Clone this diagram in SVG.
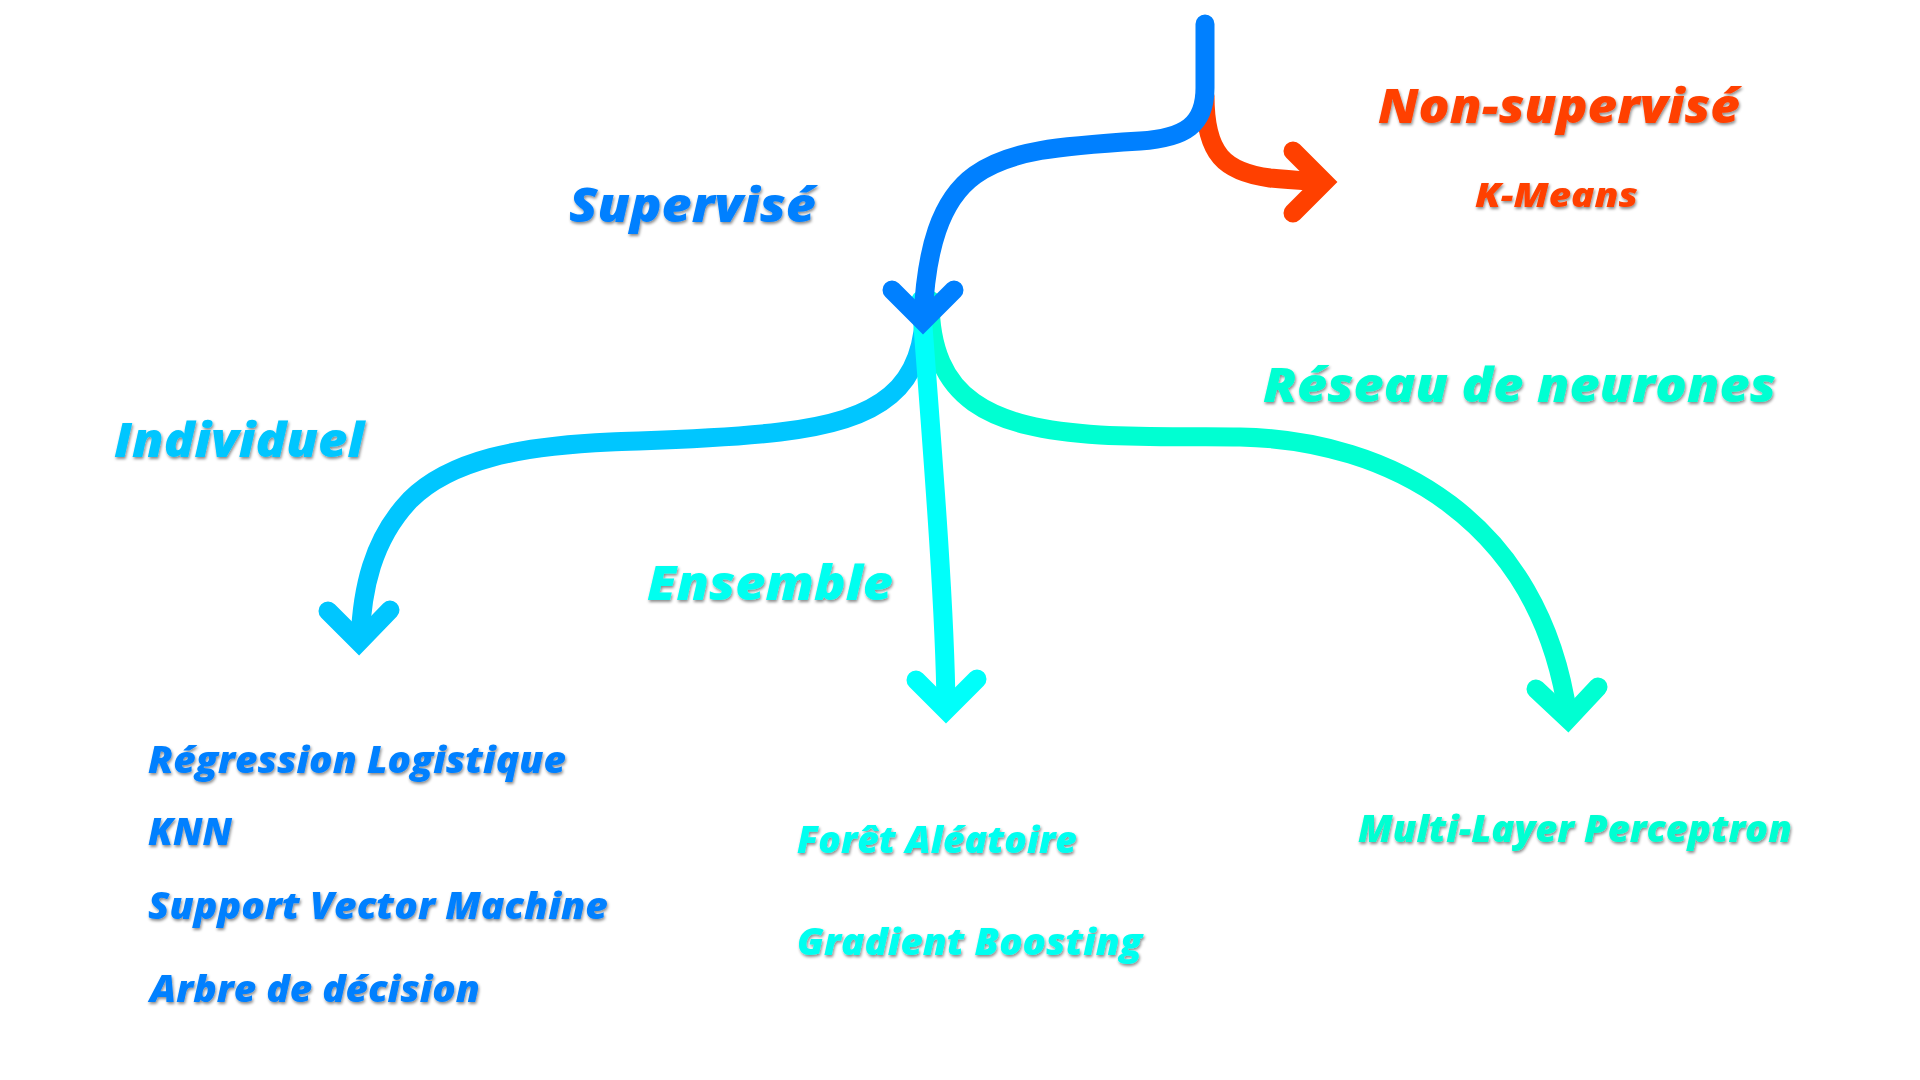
<svg xmlns="http://www.w3.org/2000/svg" width="1920" height="1080" viewBox="0 0 1920 1080">
  <defs>
    <filter id="sh" x="-10%" y="-30%" width="120%" height="160%">
      <feDropShadow dx="1" dy="2" stdDeviation="1.6" flood-color="#000" flood-opacity="0.45"/>
    </filter>
  </defs>
  <style>
    text { font-family: "Open Sans", "Noto Sans", "DejaVu Sans", sans-serif; font-weight: 800; font-style: italic; filter: url(#sh); }
    .h { font-size: 48px; }
    .s { font-size: 37px; }
    .line { fill: none; stroke-width: 19; stroke-linecap: round; stroke-linejoin: round; }
    .head { fill: none; stroke-width: 19; stroke-linecap: round; stroke-linejoin: miter; stroke-miterlimit: 10; }
    .blue { fill: #0080FF; }
    .red { fill: #FF4000; }
    .ind { fill: #00C6FF; }
    .ens { fill: #00FFF0; }
    .res { fill: #00FFD2; }
  </style>
  <rect width="1920" height="1080" fill="#FFFFFF"/>

  <g id="connectors">
    <!-- Non-supervisé branch -->
    <path class="line" stroke="#FF4000" d="M1205,96 C1205,155 1225,172 1270,178 C1290,180 1308,181 1322,182"/>
    <path class="head" stroke="#FF4000" d="M1293,151 L1324,182 L1293,213"/>
    <!-- Individuel branch -->
    <path class="line" stroke="#00C6FF" d="M925,300 C926,390 880,420 780,432 C720,439 660,440 610,442 C520,446 450,460 410,500 C372,540 362,590 360,640"/>
    <path class="head" stroke="#00C6FF" d="M328,611 L359,642 L390,610"/>
    <!-- Réseau de neurones branch -->
    <path class="line" stroke="#00FFD2" d="M930,300 C930,400 990,428 1100,435 C1160,438 1200,436 1240,437 C1390,440 1540,520 1568,716"/>
    <path class="head" stroke="#00FFD2" d="M1536,689 L1568,719 L1598,687"/>
    <!-- Ensemble branch -->
    <path class="line" stroke="#00FFFA" d="M921,300 C930,420 945,600 946,707"/>
    <path class="head" stroke="#00FFFA" d="M916,680 L946,710 L977,679"/>
    <!-- Main supervised arrow -->
    <path class="line" stroke="#0080FF" d="M1205,24 V88 C1205,125 1185,138 1140,141 C1060,146 1010,150 975,175 C940,200 926,250 923,318"/>
    <path class="head" stroke="#0080FF" d="M892,290 L923,321 L954,290"/>
  </g>

  <g id="node-non-supervise">
    <text class="h red" x="1378" y="123" textLength="362" lengthAdjust="spacingAndGlyphs">Non-supervisé</text>
  </g>
  <g id="node-kmeans">
    <text class="red" x="1475" y="207" font-size="34" textLength="163" lengthAdjust="spacingAndGlyphs">K-Means</text>
  </g>
  <g id="node-supervise">
    <text class="h blue" x="569" y="222" textLength="247" lengthAdjust="spacingAndGlyphs">Supervisé</text>
  </g>
  <g id="node-individuel">
    <text class="h ind" x="114" y="457" textLength="250" lengthAdjust="spacingAndGlyphs">Individuel</text>
  </g>
  <g id="node-ensemble">
    <text class="h ens" x="647" y="600" textLength="246" lengthAdjust="spacingAndGlyphs">Ensemble</text>
  </g>
  <g id="node-reseau">
    <text class="h res" x="1263" y="402" textLength="513" lengthAdjust="spacingAndGlyphs">Réseau de neurones</text>
  </g>
  <g id="node-individuel-list">
    <text class="s blue" x="148" y="773" textLength="418" lengthAdjust="spacingAndGlyphs">Régression Logistique</text>
    <text class="s blue" x="148" y="845" textLength="84" lengthAdjust="spacingAndGlyphs">KNN</text>
    <text class="s blue" x="148" y="919" textLength="460" lengthAdjust="spacingAndGlyphs">Support Vector Machine</text>
    <text class="s blue" x="150" y="1002" textLength="330" lengthAdjust="spacingAndGlyphs">Arbre de décision</text>
  </g>
  <g id="node-ensemble-list">
    <text class="s ens" x="797" y="853" textLength="280" lengthAdjust="spacingAndGlyphs">Forêt Aléatoire</text>
    <text class="s ens" x="797" y="955" textLength="345" lengthAdjust="spacingAndGlyphs">Gradient Boosting</text>
  </g>
  <g id="node-reseau-list">
    <text class="s res" x="1358" y="842" textLength="434" lengthAdjust="spacingAndGlyphs">Multi-Layer Perceptron</text>
  </g>
</svg>
